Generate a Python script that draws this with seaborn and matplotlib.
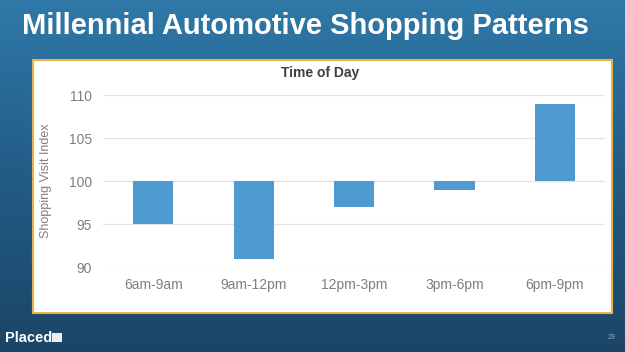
import numpy as np
import pandas as pd
import matplotlib.pyplot as plt
from matplotlib.patches import Rectangle
from matplotlib.colors import LinearSegmentedColormap
import seaborn as sns

# dados do grafico
periodos = ["6am-9am", "9am-12pm", "12pm-3pm", "3pm-6pm", "6pm-9pm"]
indice = [95, 91, 97, 99, 109]
base = 100

dados = pd.DataFrame({"Periodo": periodos, "Indice": indice})
dados["Delta"] = dados["Indice"] - base

sns.set_style("white")
plt.rcParams["font.family"] = ["Liberation Sans", "DejaVu Sans"]

fig = plt.figure(figsize=(6.25, 3.52), dpi=100)

# fundo azul em degrade + caixa branca com borda dourada
fundo = fig.add_axes([0, 0, 1, 1])
fundo.set_zorder(-5)
grad = np.linspace(0, 1, 256).reshape(-1, 1)
cmap = LinearSegmentedColormap.from_list("slide", ["#2f79a8", "#225c86", "#1b4566"])
fundo.imshow(grad, aspect="auto", cmap=cmap, extent=[0, 1, 0, 1])
fundo.add_patch(Rectangle((0.053, 0.111), 0.926, 0.719, transform=fundo.transAxes,
                          facecolor="white", edgecolor="#e8b24a", linewidth=1.5, zorder=3))
# quadradinho do logo
fundo.add_patch(Rectangle((0.083, 0.027), 0.016, 0.028, transform=fundo.transAxes,
                          facecolor="#e8eef4", edgecolor="none", zorder=3))
fundo.set_xlim(0, 1)
fundo.set_ylim(0, 1)
fundo.set_axis_off()

# titulo do slide
fig.text(0.035, 0.925, "Millennial Automotive Shopping Patterns", color="white",
         fontsize=21, fontweight="bold", va="center", ha="left")

ax = fig.add_axes([0.165, 0.241, 0.803, 0.489])
ax.set_facecolor("none")
sns.barplot(x="Periodo", y="Delta", data=dados, color="#4f9bd0", width=0.4,
            bottom=base, saturation=1, linewidth=0, ax=ax, zorder=3)
ax.set_ylim(90, 110)
ax.set_yticks([90, 95, 100, 105, 110])
ax.grid(axis="y", color="#e3e3e3", linewidth=0.9, zorder=0)
ax.set_axisbelow(True)
sns.despine(ax=ax, left=True, bottom=True)
ax.tick_params(axis="both", length=0, labelsize=10, labelcolor="#7f7f7f", pad=8)
ax.set_xlabel("")
ax.set_ylabel("Shopping Visit Index", fontsize=9, color="#7f7f7f", labelpad=12)

fig.text(0.512, 0.793, "Time of Day", fontsize=10, fontweight="bold",
         color="#404040", ha="center", va="center")

# rodape
fig.text(0.008, 0.04, "Placed", fontsize=10.5, fontweight="bold", color="white",
         ha="left", va="center")
fig.text(0.985, 0.04, "29", fontsize=5, color="#8aa6bd", ha="right", va="center")

plt.savefig("out.png", dpi=100)
